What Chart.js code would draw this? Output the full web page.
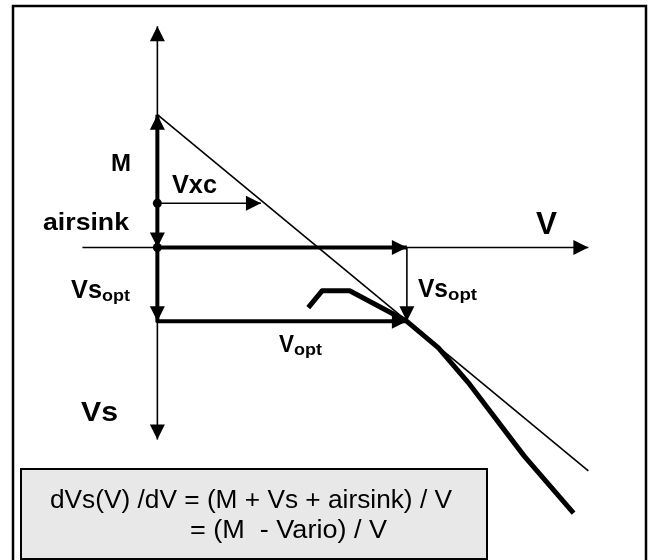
<!DOCTYPE html>
<html>
<head>
<meta charset="utf-8">
<script src="https://cdn.jsdelivr.net/npm/chart.js@4"></script>
<style>
  html, body { margin: 0; padding: 0; background: #fff; }
  canvas { display: block; }
</style>
</head>
<body>
<canvas id="polar" width="654" height="560"></canvas>
<script>
// unités du schéma : V vers la droite, montée vers le haut, origine au croisement des axes
const M = 135;
const airsink = 45;
const VsOpt = 75;
const Vopt = 253;
const Vxc = 105;

const axisV = [-76, 437];   // étendue de l'axe V
const axisVs = [-195, 225]; // étendue de l'axe Vs

// polaire (trait épais)
const polarV = [153, 167, 195, 253, 285, 315, 372, 422];
const polarVs = [-61, -44, -44, -75, -102, -137, -212, -270];

// tangente issue de M
const tangentV = [0, 437];
const tangentVs = [135, -227];

const pts = (xs, ys) => xs.map((x, i) => ({ x, y: ys[i] }));

const THIN = 1.6;
const THICK = 4;

function seg(data, width, extra = {}) {
  return Object.assign({
    data,
    showLine: true,
    borderColor: '#000',
    backgroundColor: '#000',
    borderWidth: width,
    pointRadius: 0,
    borderCapStyle: 'butt',
    borderJoinStyle: 'round',
  }, extra);
}

const datasets = [
  seg(pts(axisV, [0, 0]), THIN, { arrowEnd: true }),
  seg(pts([0, 0], axisVs), THIN, { arrowEnd: true, arrowStart: true }),
  seg(pts(tangentV, tangentVs), THIN),
  seg(pts([0, Vxc], [airsink, airsink]), THIN, { arrowEnd: true }),
  seg(pts([Vopt, Vopt], [0, -VsOpt]), THIN, { arrowEnd: true }),
  seg(pts([0, 0], [airsink, M]), THICK, { arrowEnd: true }),
  seg(pts([0, 0], [airsink, 0]), THICK, { arrowEnd: true }),
  seg(pts([0, 0], [0, -VsOpt]), THICK, { arrowEnd: true }),
  seg(pts([0, Vopt], [0, 0]), THICK, { arrowEnd: true }),
  seg(pts([0, Vopt], [-VsOpt, -VsOpt]), THICK, { arrowEnd: true }),
  seg(pts(polarV, polarVs), 5),
  // points sur l'axe Vs
  { data: pts([0, 0], [airsink, 0]), showLine: false, pointRadius: 4.5,
    pointBackgroundColor: '#000', pointBorderWidth: 0 },
];

// pointes de flèche aux extrémités des segments
const arrowPlugin = {
  id: 'arrows',
  afterDatasetsDraw(chart) {
    const ctx = chart.ctx;
    const L = 15, W = 7.5;
    const head = (tip, from) => {
      const a = Math.atan2(tip.y - from.y, tip.x - from.x);
      const bx = tip.x - L * Math.cos(a), by = tip.y - L * Math.sin(a);
      ctx.beginPath();
      ctx.moveTo(tip.x, tip.y);
      ctx.lineTo(bx - W * Math.sin(a), by + W * Math.cos(a));
      ctx.lineTo(bx + W * Math.sin(a), by - W * Math.cos(a));
      ctx.closePath();
      ctx.fill();
    };
    ctx.save();
    ctx.fillStyle = '#000';
    chart.data.datasets.forEach((ds, i) => {
      const p = chart.getDatasetMeta(i).data;
      if (ds.arrowEnd) head(p[p.length - 1], p[p.length - 2]);
      if (ds.arrowStart) head(p[0], p[1]);
    });
    ctx.restore();
  }
};

function fitText(ctx, str, left, baseline, width, font) {
  ctx.font = font;
  const w = ctx.measureText(str).width;
  ctx.save();
  ctx.translate(left, baseline);
  ctx.scale(width / w, 1);
  ctx.fillText(str, 0, 0);
  ctx.restore();
}

const B = 'bold ', F = 'px "Liberation Sans", Arial, sans-serif';
const labels = [
  ['M', 111, 171, 20, B + 24 + F],
  ['Vxc', 172, 193, 45, B + 25 + F],
  ['airsink', 43, 230, 86, B + 24 + F],
  ['Vs', 71, 298, 31, B + 25 + F],
  ['opt', 102, 301, 28, B + 17 + F],
  ['Vs', 418, 297, 30, B + 25 + F],
  ['opt', 448, 300, 29, B + 17 + F],
  ['V', 279, 352, 15, B + 24 + F],
  ['opt', 294, 355, 28, B + 17 + F],
  ['V', 536, 234, 21, B + 31 + F],
  ['Vs', 81, 421, 37, B + 28 + F],
];

const framePlugin = {
  id: 'frame',
  beforeDraw(chart) {
    const ctx = chart.ctx;
    ctx.save();
    ctx.fillStyle = '#fff';
    ctx.fillRect(0, 0, chart.width, chart.height);
    ctx.strokeStyle = '#000';
    ctx.lineWidth = 2.5;
    ctx.strokeRect(13, 6, 633, 600);
    ctx.restore();
  },
  afterDraw(chart) {
    const ctx = chart.ctx;
    ctx.save();
    ctx.fillStyle = '#000';
    ctx.textBaseline = 'alphabetic';
    labels.forEach(l => fitText(ctx, ...l));

    // encadré de la formule
    ctx.fillStyle = '#e8e8e8';
    ctx.fillRect(21, 469, 466, 90);
    ctx.strokeStyle = '#000';
    ctx.lineWidth = 2;
    ctx.strokeRect(21, 469, 466, 90);
    ctx.fillStyle = '#000';
    fitText(ctx, 'dVs(V) /dV = (M + Vs + airsink) / V', 50, 508, 402, '26' + F);
    fitText(ctx, '= (M  - Vario) / V', 190, 538, 197, '26' + F);
    ctx.restore();
  }
};

new Chart(document.getElementById('polar'), {
  type: 'scatter',
  data: { datasets },
  options: {
    responsive: false,
    animation: false,
    events: [],
    layout: { padding: 0 },
    plugins: { legend: { display: false }, tooltip: { enabled: false } },
    scales: {
      x: { type: 'linear', display: false, min: -155, max: 499 },
      y: { type: 'linear', display: false, min: -313, max: 247 },
    },
  },
  plugins: [framePlugin, arrowPlugin],
});
</script>
</body>
</html>
